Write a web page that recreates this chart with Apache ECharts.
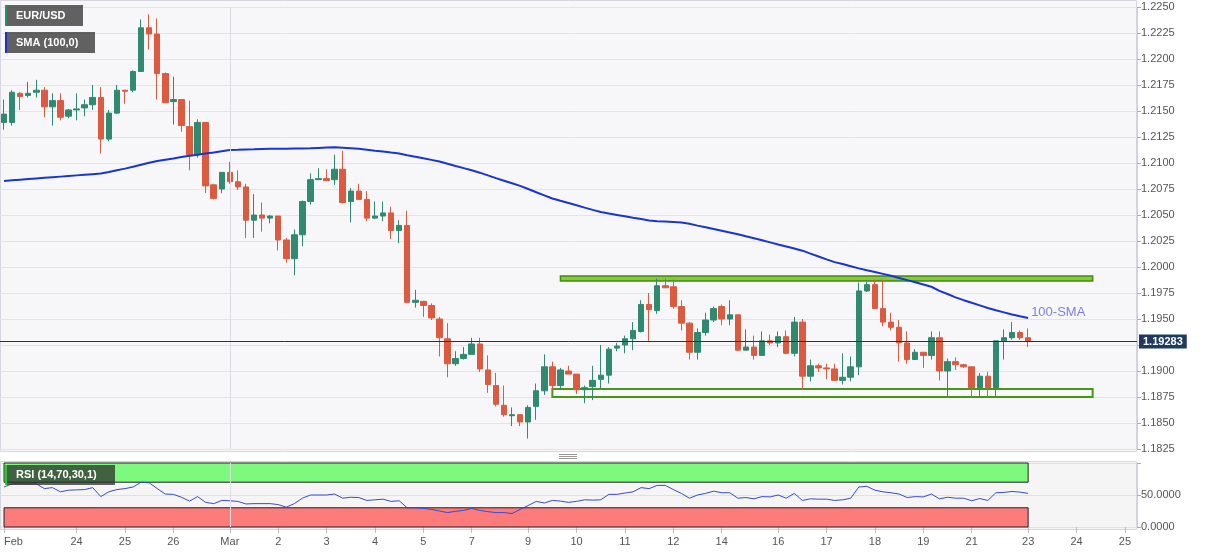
<!DOCTYPE html>
<html><head><meta charset="utf-8">
<script src="https://cdn.jsdelivr.net/npm/echarts@6/dist/echarts.min.js"></script>
<style>html,body{margin:0;padding:0;background:#fff}#c{width:1207px;height:555px}</style>
</head><body><div id="c"></div>
<script>
// ---- data (4-hour EUR/USD candles) ----
const opens  = [1.2139,1.2139,1.2167,1.2165,1.2168,1.2170,1.2154,1.2160,1.2145,1.2151,1.2153,1.2156,1.2163,1.2123,1.2148,1.2170,1.2170,1.2188,1.2230,1.2224,
1.2186,1.2159,1.2161,1.2135,1.2108,1.2139,1.2079,1.2075,1.2091,1.2082,1.2077,1.2045,1.2050,1.2047,1.2049,1.2026,1.2008,1.2031,1.2063,1.2084,
1.2085,1.2084,1.2094,1.2063,1.2073,1.2065,1.2047,1.2049,1.2052,1.2035,1.2040,1.1966,1.1967,1.1963,1.1950,1.1931,1.1907,1.1912,1.1916,1.1926,
1.1901,1.1886,1.1867,1.1857,1.1858,1.1851,1.1866,1.1881,1.1904,1.1886,1.1900,1.1897,1.1882,1.1885,1.1892,1.1896,1.1922,1.1925,1.1931,1.1938,
1.1964,1.1958,1.1982,1.1981,1.1962,1.1946,1.1918,1.1937,1.1949,1.1962,1.1950,1.1954,1.1920,1.1923,1.1915,1.1929,1.1927,1.1933,1.1917,1.1947,
1.1895,1.1905,1.1903,1.1902,1.1891,1.1894,1.1904,1.1977,1.1983,1.1960,1.1947,1.1942,1.1927,1.1911,1.1918,1.1915,1.1932,1.1900,1.1909,1.1906,
1.1904,1.1884,1.1895,1.1884,1.1929,1.1932,1.1937,1.1932];
const highs  = [1.2161,1.2170,1.2168,1.2178,1.2180,1.2173,1.2167,1.2167,1.2152,1.2167,1.2161,1.2175,1.2173,1.2151,1.2175,1.2170,1.2189,1.2238,1.2243,1.2239,
1.2187,1.2183,1.2161,1.2160,1.2142,1.2139,1.2080,1.2091,1.2101,1.2093,1.2080,1.2070,1.2062,1.2050,1.2049,1.2028,1.2036,1.2064,1.2090,1.2095,
1.2094,1.2108,1.2112,1.2076,1.2080,1.2073,1.2063,1.2063,1.2058,1.2045,1.2054,1.1978,1.1967,1.1965,1.1952,1.1946,1.1919,1.1923,1.1932,1.1932,
1.1915,1.1898,1.1886,1.1865,1.1858,1.1867,1.1888,1.1916,1.1909,1.1903,1.1905,1.1897,1.1886,1.1905,1.1925,1.1923,1.1927,1.1934,1.1947,1.1968,
1.1975,1.1989,1.1989,1.1988,1.1968,1.1947,1.1941,1.1956,1.1962,1.1964,1.1968,1.1954,1.1940,1.1934,1.1938,1.1935,1.1938,1.1939,1.1952,1.1950,
1.1911,1.1907,1.1907,1.1907,1.1917,1.1914,1.1985,1.1986,1.1988,1.1988,1.1956,1.1949,1.1938,1.1921,1.1918,1.1938,1.1938,1.1912,1.1913,1.1907,
1.1904,1.1898,1.1899,1.1929,1.1940,1.1947,1.1939,1.1941];
const lows   = [1.2132,1.2136,1.2151,1.2163,1.2163,1.2144,1.2136,1.2141,1.2143,1.2141,1.2145,1.2151,1.2109,1.2121,1.2147,1.2157,1.2168,1.2188,1.2209,1.2161,
1.2158,1.2137,1.2130,1.2093,1.2105,1.2071,1.2065,1.2071,1.2080,1.2074,1.2028,1.2028,1.2034,1.2042,1.2016,1.2004,1.1992,1.2020,1.2060,1.2084,
1.2083,1.2079,1.2061,1.2043,1.2065,1.2044,1.2046,1.2044,1.2027,1.2023,1.1965,1.1961,1.1952,1.1949,1.1914,1.1894,1.1905,1.1911,1.1916,1.1899,
1.1879,1.1866,1.1856,1.1847,1.1847,1.1835,1.1853,1.1877,1.1882,1.1882,1.1897,1.1878,1.1869,1.1872,1.1883,1.1888,1.1919,1.1917,1.1920,1.1937,
1.1929,1.1955,1.1980,1.1960,1.1939,1.1911,1.1911,1.1934,1.1947,1.1944,1.1944,1.1919,1.1920,1.1911,1.1915,1.1925,1.1923,1.1916,1.1914,1.1882,
1.1890,1.1899,1.1892,1.1891,1.1887,1.1890,1.1896,1.1976,1.1960,1.1943,1.1939,1.1909,1.1907,1.1911,1.1903,1.1911,1.1891,1.1875,1.1901,1.1903,
1.1875,1.1875,1.1875,1.1875,1.1911,1.1930,1.1930,1.1923];
const closes = [1.2147,1.2168,1.2164,1.2167,1.2170,1.2154,1.2160,1.2144,1.2151,1.2152,1.2156,1.2163,1.2123,1.2148,1.2170,1.2169,1.2188,1.2230,1.2224,1.2186,
1.2158,1.2161,1.2136,1.2108,1.2139,1.2078,1.2066,1.2091,1.2082,1.2077,1.2045,1.2050,1.2047,1.2049,1.2026,1.2008,1.2031,1.2063,1.2084,1.2085,
1.2083,1.2094,1.2062,1.2073,1.2065,1.2047,1.2049,1.2052,1.2035,1.2040,1.1966,1.1968,1.1963,1.1951,1.1932,1.1907,1.1912,1.1916,1.1926,1.1902,
1.1887,1.1868,1.1858,1.1858,1.1851,1.1865,1.1881,1.1904,1.1886,1.1901,1.1897,1.1882,1.1884,1.1891,1.1896,1.1921,1.1924,1.1931,1.1939,1.1964,
1.1959,1.1982,1.1980,1.1962,1.1946,1.1918,1.1937,1.1949,1.1960,1.1950,1.1954,1.1920,1.1923,1.1915,1.1929,1.1927,1.1933,1.1917,1.1947,1.1895,
1.1905,1.1903,1.1902,1.1891,1.1894,1.1904,1.1977,1.1983,1.1960,1.1947,1.1942,1.1927,1.1911,1.1918,1.1915,1.1932,1.1900,1.1909,1.1906,1.1904,
1.1884,1.1895,1.1884,1.1929,1.1932,1.1937,1.1932,1.19283];
const sma100 = [1.20827,1.20833,1.20839,1.20845,1.20851,1.20857,1.20863,1.20869,1.20875,1.20881,1.20887,1.20893,1.20899,1.20913,1.20930,1.20946,1.20964,1.20983,1.21002,1.21019,
1.21032,1.21044,1.21058,1.21069,1.21080,1.21091,1.21102,1.21114,1.21125,1.21127,1.21130,1.21132,1.21135,1.21136,1.21137,1.21138,1.21139,1.21140,1.21142,1.21145,
1.21148,1.21151,1.21147,1.21143,1.21137,1.21128,1.21118,1.21110,1.21100,1.21091,1.21075,1.21061,1.21045,1.21030,1.21014,1.20992,1.20971,1.20951,1.20930,1.20907,
1.20881,1.20855,1.20830,1.20805,1.20780,1.20750,1.20719,1.20689,1.20659,1.20637,1.20616,1.20593,1.20571,1.20549,1.20528,1.20514,1.20501,1.20488,1.20474,1.20462,
1.20448,1.20441,1.20437,1.20432,1.20427,1.20415,1.20398,1.20382,1.20366,1.20349,1.20332,1.20315,1.20295,1.20276,1.20257,1.20237,1.20217,1.20198,1.20178,1.20157,
1.20129,1.20101,1.20073,1.20047,1.20029,1.20008,1.19987,1.19968,1.19951,1.19934,1.19916,1.19895,1.19874,1.19853,1.19832,1.19810,1.19770,1.19740,1.19708,1.19681,
1.19656,1.19631,1.19606,1.19584,1.19564,1.19544,1.19526,1.19509];
const rsi14 = [62.5,67.5,67.5,67,67.5,60,61.5,55,57.5,58,58.5,61.5,47.5,55,58.5,60,62.5,70,69,60,
51.5,51,46.5,40.5,47.5,38.5,36.5,41.5,41,40,36,36.5,36.5,36.5,35,31,36.5,45,50,50,
50,51.5,45,46.5,46,41.5,42.5,43.5,40,41,30,30,29,27.5,25,22.5,24.5,26,29,26,
24,22.5,22.5,21,27.5,33.5,40,37.5,41.5,40.5,38.5,40,42.5,42,42.5,51,51,53,55,61.5,
60,65,65,58.5,52.5,45,50,52.5,56,53.5,53.5,45,46,44,47.5,47,50,45,52.5,41.5,
44,43.5,43.5,41.5,42.5,45,62.5,63.5,57.5,55,53.5,51.5,46,47.5,47,51.5,44,46.5,45,45,
41,44.5,41.5,53.5,54,55.5,54.5,52.5];
// x tick labels (category index -> text)
const tickIdx  = [0,9,15,21,28,34,40,46,52,58,65,71,77,83,89,96,102,108,114,120,127,133,139];
const tickText = ['Feb','24','25','26','Mar','2','3','4','5','7','9','10','11','12','14','16','17','18','19','21','23','24','25'];
const monthStartIdx = 28;
const lastPrice = 1.19283;
const resistanceZone = [1.19865, 1.19913];
const resistanceSpan = [69, 135];
const supportZone = [1.18750, 1.18827];
const supportSpan = [68, 135];
const rsiLevels = [30, 70];
const rsiSpan = [0, 127];
const nameMain = 'EUR/USD';
const nameSma = 'SMA (100,0)';
const nameRsi = 'RSI (14,70,30,1)';
const smaTag = '100-SMA';

// ---- chart ----
const N = 141;
const cats = Array.from({length: N}, (_, i) => String(i));
const ohlc = opens.map((o, i) => [o, closes[i], lows[i], highs[i]]);
const tickMap = {};
tickIdx.forEach((k, j) => tickMap[k] = tickText[j]);
const FONT = 'Liberation Sans, Arial, sans-serif';
const UP = '#2f8a6f', DOWN = '#db5a40';

function legendBox(x, y, w, h, strip, text) {
  return {type: 'group', x: x, y: y, z: 100, children: [
    {type: 'rect', shape: {x: 0, y: 0, width: w, height: h}, style: {fill: 'rgba(45,45,45,0.74)'}, z: 100},
    {type: 'rect', shape: {x: 0, y: 0, width: 2, height: h}, style: {fill: strip}, z: 101},
    {type: 'text', x: 11, y: h / 2, style: {text: text, fill: '#fff', font: 'bold 11px ' + FONT, verticalAlign: 'middle'}, z: 101}
  ]};
}

const chart = echarts.init(document.getElementById('c'));
chart.setOption({
  animation: false,
  backgroundColor: '#ffffff',
  textStyle: {fontFamily: FONT},
  graphic: {elements: [
    {type: 'rect', shape: {x: 0.5, y: 0.5, width: 1136, height: 451}, style: {fill: '#f7f7f9', stroke: '#d6d6e0', lineWidth: 1}, z: -10},
    {type: 'rect', shape: {x: 0.5, y: 461.5, width: 1136, height: 68}, style: {fill: '#f5f5f5', stroke: '#d6d6e0', lineWidth: 1}, z: -10},
    {type: 'line', shape: {x1: 559, y1: 454.5, x2: 577, y2: 454.5}, style: {stroke: '#999', lineWidth: 1}, z: 5},
    {type: 'line', shape: {x1: 559, y1: 456.5, x2: 577, y2: 456.5}, style: {stroke: '#999', lineWidth: 1}, z: 5},
    {type: 'line', shape: {x1: 559, y1: 458.5, x2: 577, y2: 458.5}, style: {stroke: '#999', lineWidth: 1}, z: 5},
    legendBox(5, 5, 78, 21, '#2e8b6e', nameMain),
    legendBox(5, 32, 90, 21, '#1a32c8', nameSma),
    legendBox(5, 465, 110, 20, '#22cc22', nameRsi)
  ]},
  grid: [
    {left: -3, right: 70, top: 7, height: 442},
    {left: -3, right: 70, top: 463, height: 64}
  ],
  xAxis: [
    {type: 'category', gridIndex: 0, data: cats, boundaryGap: true, show: false},
    {type: 'category', gridIndex: 1, data: cats, boundaryGap: true,
     axisLine: {show: false},
     axisTick: {show: true, length: 6, alignWithLabel: true, interval: (i) => tickMap[i] !== undefined, lineStyle: {color: '#bbb'}},
     axisLabel: {interval: (i) => tickMap[i] !== undefined, formatter: (v, i) => tickMap[i] || '',
                 color: '#555', fontSize: 11, margin: 9, alignMinLabel: 'left'},
     splitLine: {show: false}}
  ],
  yAxis: [
    {type: 'value', gridIndex: 0, position: 'right', min: 1.1825, max: 1.2250, interval: 0.0025,
     axisLine: {show: true, lineStyle: {color: '#cfcfd8'}},
     axisTick: {show: true, length: 4, lineStyle: {color: '#aaa'}},
     axisLabel: {formatter: (v) => v.toFixed(4), color: '#555', fontSize: 11, margin: 4},
     splitLine: {show: true, lineStyle: {color: '#e3e3e8', width: 1}}},
    {type: 'value', gridIndex: 1, position: 'right', min: 0, max: 100, interval: 50,
     axisLine: {show: true, lineStyle: {color: '#cfcfd8'}},
     axisTick: {show: true, length: 4, lineStyle: {color: '#aaa'}},
     axisLabel: {formatter: (v) => v === 100 ? '' : v.toFixed(4), color: '#555', fontSize: 11, margin: 4},
     splitLine: {show: true, lineStyle: {color: '#e0e0e0', width: 1}}}
  ],
  series: [
    {type: 'candlestick', name: nameMain, xAxisIndex: 0, yAxisIndex: 0, data: ohlc, barWidth: 6,
     itemStyle: {color: UP, color0: DOWN, borderColor: UP, borderColor0: DOWN, borderWidth: 1},
     markArea: {silent: true, data: [
       [{xAxis: resistanceSpan[0], yAxis: resistanceZone[0], itemStyle: {color: '#8cc63f', borderColor: '#3f8c12', borderWidth: 1.5}},
        {xAxis: resistanceSpan[1], yAxis: resistanceZone[1]}],
       [{xAxis: supportSpan[0], yAxis: supportZone[0], itemStyle: {color: 'rgba(255,255,255,0.4)', borderColor: '#479816', borderWidth: 2}},
        {xAxis: supportSpan[1], yAxis: supportZone[1]}]
     ]},
     markLine: {silent: true, symbol: ['none', 'none'], data: [
       {xAxis: monthStartIdx, lineStyle: {color: '#dcdce2', type: 'solid', width: 1}, label: {show: false}}
     ]}
    },
    {type: 'line', name: nameSma, xAxisIndex: 0, yAxisIndex: 0, data: sma100, showSymbol: false, symbol: 'none',
     lineStyle: {color: '#1834d6', width: 2}, z: 3,
     endLabel: {show: true, formatter: smaTag, color: '#7f7fe2', fontSize: 13, offset: [0, -6], distance: 3},
     markLine: {silent: true, symbol: ['none', 'none'], precision: 5, data: [
       {yAxis: lastPrice, lineStyle: {color: '#1d3358', type: 'solid', width: 1},
        label: {show: true, position: 'end', distance: 2, formatter: lastPrice.toFixed(5), color: '#fff', fontWeight: 'bold', fontSize: 11,
                backgroundColor: '#1f3a60', padding: [2, 4, 1, 4]}}
     ]}},
    {type: 'line', name: nameRsi, xAxisIndex: 1, yAxisIndex: 1, data: rsi14, showSymbol: false, symbol: 'none',
     lineStyle: {color: '#3a49cf', width: 1}, z: 3,
     markArea: {silent: true, data: [
       [{xAxis: rsiSpan[0], yAxis: rsiLevels[1], itemStyle: {color: '#7dfa7d', borderColor: '#222', borderWidth: 1}}, {xAxis: rsiSpan[1], yAxis: 100}],
       [{xAxis: rsiSpan[0], yAxis: 0, itemStyle: {color: '#fd7b7b', borderColor: '#222', borderWidth: 1}}, {xAxis: rsiSpan[1], yAxis: rsiLevels[0]}]
     ]},
     markLine: {silent: true, symbol: ['none', 'none'], data: [
       {xAxis: monthStartIdx, lineStyle: {color: '#dcdce2', type: 'solid', width: 1}, label: {show: false}}
     ]}
    }
  ]
});
</script></body></html>
